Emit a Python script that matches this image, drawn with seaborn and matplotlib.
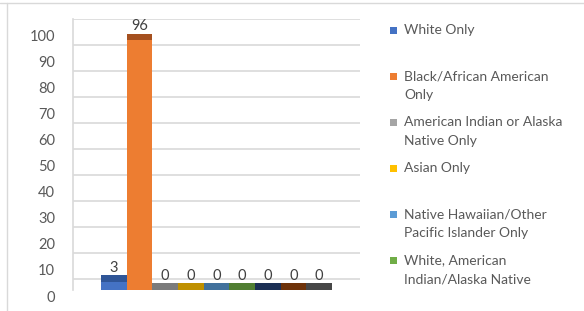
import numpy as np
import pandas as pd
import matplotlib
matplotlib.use("Agg")
import matplotlib.pyplot as plt
import seaborn as sns
from matplotlib.transforms import ScaledTranslation
from matplotlib.patches import Rectangle
from matplotlib.lines import Line2D

# ---- data ----
categories = [
    "White Only",
    "Black/African American\nOnly",
    "American Indian or Alaska\nNative Only",
    "Asian Only",
    "Native Hawaiian/Other\nPacific Islander Only",
    "White, American\nIndian/Alaska Native",
    "White, Asian",
    "White, Black/African American",
    "Other Multi-Racial",
]
values = [3, 96, 0, 0, 0, 0, 0, 0, 0]
y_ticks = [0, 10, 20, 30, 40, 50, 60, 70, 80, 90, 100]
legend_count = 6  # entries visible in the legend

front_colors = ["#4472C4", "#ED7D31", "#A5A5A5", "#FFC000", "#5B9BD5",
                "#70AD47", "#264478", "#9E480E", "#636363"]
top_colors = ["#2F5597", "#A5501F", "#7B7B7B", "#BF9000", "#41719C",
              "#507E32", "#1B2F54", "#6E3209", "#464646"]

W, H = 584, 311
sns.set_theme(style="white")
plt.rcParams["font.family"] = ["Lato", "DejaVu Sans"]

fig = plt.figure(figsize=(W / 100, H / 100), dpi=100)
fig.patch.set_facecolor("white")
ax = fig.add_axes([73 / W, (H - 290) / H, 287 / W, 271 / H])

df = pd.DataFrame({"cat": categories, "val": values})
sns.barplot(data=df, x="cat", y="val", hue="cat", order=categories,
            hue_order=categories, palette=front_colors, saturation=1,
            width=1.0, legend=False, ax=ax, linewidth=0, zorder=3)

depth = 2.6   # 3D top-face thickness
floor = 4.2   # back-wall offset of gridlines
pos = np.arange(len(values))
ax.bar(pos, depth, bottom=values, width=1.0, color=top_colors,
       linewidth=0, zorder=3)

ax.set_xlim(-1.59, len(values) - 1 + 1.59)
ax.set_ylim(0, 100 + floor)
for t in y_ticks:
    ax.axhline(t + floor, color="#D9D9D9", lw=1.2, zorder=0)

for s in ["top", "right", "bottom"]:
    ax.spines[s].set_visible(False)
ax.spines["left"].set_color("#D9D9D9")
ax.spines["left"].set_linewidth(1.2)

ax.set_xticks([])
ax.set_xlabel("")
ax.set_ylabel("")
ax.set_yticks(y_ticks)
ax.set_yticklabels([str(t) for t in y_ticks])
ax.tick_params(axis="y", left=False, pad=7, labelsize=10.5, labelcolor="#595959")
shift = ScaledTranslation(0, -6 / 100, fig.dpi_scale_trans)
for tk in ax.yaxis.get_major_ticks():
    tk.label1.set_transform(tk.label1.get_transform() + shift)

for i, v in enumerate(values):
    ax.annotate(f"{v}", (i, v + depth), xytext=(0, 0.5),
                textcoords="offset points", ha="center", va="bottom",
                fontsize=10.5, color="#404040")

# ---- legend (manual, Excel-like layout) ----
for i in range(legend_count):
    yc = 30 + 46 * i
    fig.add_artist(Rectangle((390 / W, 1 - (yc + 3.5) / H), 7 / W, 7 / H,
                             transform=fig.transFigure, color=front_colors[i],
                             lw=0))
    fig.text(404 / W, 1 - (yc - 5.5) / H, categories[i], ha="left", va="top",
             fontsize=10, color="#595959", linespacing=1.67)

# ---- outer frame lines ----
fig.add_artist(Line2D([0, 1], [1 - 3 / H, 1 - 3 / H], transform=fig.transFigure,
                      color="#D9D9D9", lw=1))
fig.add_artist(Line2D([7 / W, 7 / W], [0, 1 - 3 / H], transform=fig.transFigure,
                      color="#D9D9D9", lw=1))

fig.savefig("out.png", dpi=100, facecolor="white")
